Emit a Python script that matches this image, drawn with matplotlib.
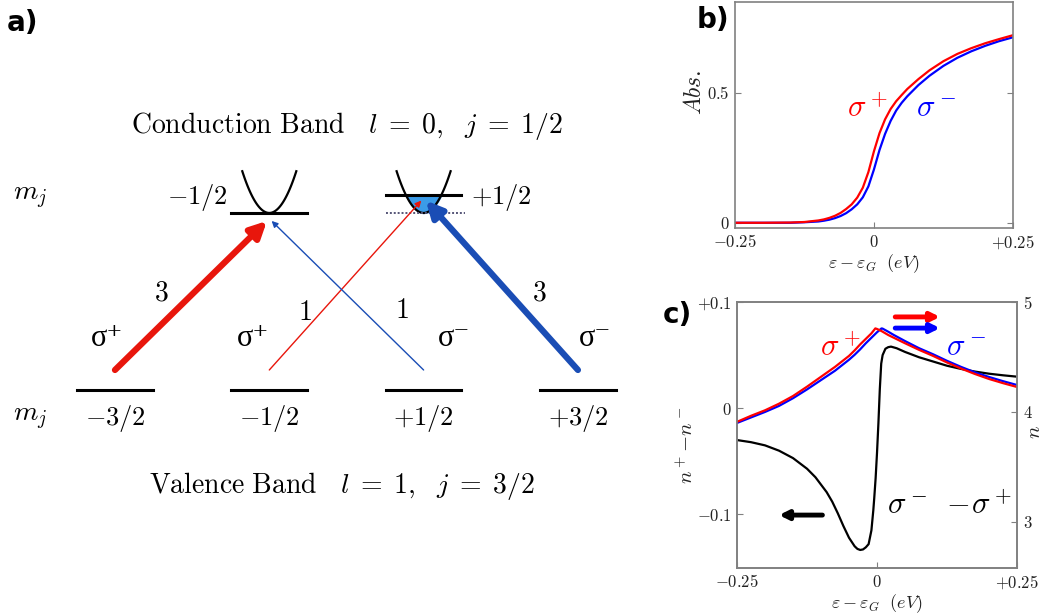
import numpy as np
import matplotlib.pyplot as plt
from matplotlib.patches import FancyArrowPatch

plt.rcParams['mathtext.fontset'] = 'cm'
plt.rcParams['font.family'] = ['DejaVu Serif']

# ---- panel a: level scheme ----
valence_mj = [-1.5, -0.5, 0.5, 1.5]
valence_labels = [r'$-3/2$', r'$-1/2$', r'$+1/2$', r'$+3/2$']
conduction_mj = [-0.5, 0.5]
conduction_labels = [r'$-1/2$', r'$+1/2$']
trans_from = [-1.5, -0.5, 0.5, 1.5]
trans_to = [-0.5, 0.5, -0.5, 0.5]
trans_strength = [3, 1, 1, 3]
trans_pol = ['σ⁺', 'σ⁺', 'σ⁻', 'σ⁻']
fermi_shift = 0.10   # +1/2 conduction band filled up to here

# ---- panel b: absorption ----
e_b = [-0.25, -0.2, -0.15, -0.125, -0.1, -0.09, -0.08, -0.07, -0.06, -0.05,
       -0.04, -0.03, -0.02, -0.01, 0.0, 0.01, 0.02, 0.03, 0.04, 0.05, 0.06,
       0.08, 0.1, 0.125, 0.15, 0.175, 0.2, 0.225, 0.25]
abs_plus = [0.0, 0.0, 0.001, 0.003, 0.009, 0.013, 0.019, 0.027, 0.038, 0.053,
            0.071, 0.097, 0.135, 0.195, 0.275, 0.345, 0.398, 0.438, 0.468, 0.492,
            0.515, 0.553, 0.587, 0.622, 0.650, 0.672, 0.691, 0.707, 0.722]
abs_minus = [0.0, 0.0, 0.0, 0.002, 0.005, 0.008, 0.012, 0.018, 0.026, 0.037,
             0.052, 0.071, 0.098, 0.140, 0.205, 0.280, 0.342, 0.392, 0.432, 0.462,
             0.487, 0.530, 0.566, 0.604, 0.635, 0.660, 0.681, 0.699, 0.714]

# ---- panel c: refractive index ----
e_n = [-0.25, -0.225, -0.2, -0.175, -0.15, -0.125, -0.1, -0.075, -0.05, -0.04,
       -0.03, -0.02, -0.01, -0.003, 0.0, 0.008, 0.01, 0.02, 0.03, 0.05, 0.075,
       0.1, 0.125, 0.15, 0.175, 0.2, 0.225, 0.25]
n_plus = [3.91, 3.965, 4.015, 4.075, 4.145, 4.23, 4.32, 4.41, 4.51, 4.56,
          4.615, 4.665, 4.715, 4.76, 4.755, 4.736, 4.73, 4.70, 4.675, 4.625, 4.565,
          4.51, 4.45, 4.395, 4.345, 4.30, 4.262, 4.227]
n_minus = [3.90, 3.95, 4.00, 4.055, 4.125, 4.205, 4.29, 4.375, 4.475, 4.52,
           4.57, 4.625, 4.675, 4.71, 4.725, 4.76, 4.758, 4.73, 4.70, 4.645, 4.58,
           4.525, 4.465, 4.41, 4.36, 4.318, 4.28, 4.245]
e_d = [-0.25, -0.225, -0.2, -0.175, -0.15, -0.125, -0.11, -0.1, -0.09, -0.08,
       -0.07, -0.06, -0.05, -0.04, -0.035, -0.03, -0.025, -0.02, -0.015, -0.01,
       -0.0066, -0.005, -0.0025, 0.0, 0.0025, 0.005, 0.0075, 0.01, 0.015, 0.02,
       0.025, 0.035, 0.05, 0.075, 0.1, 0.125, 0.15, 0.175, 0.2, 0.225, 0.25]
n_diff = [-0.030, -0.032, -0.035, -0.040, -0.047, -0.057, -0.065, -0.072, -0.079, -0.088,
          -0.099, -0.111, -0.122, -0.130, -0.1325, -0.1335, -0.133, -0.131, -0.128, -0.115,
          -0.096, -0.085, -0.066, -0.042, -0.014, 0.018, 0.042, 0.050, 0.056, 0.0575,
          0.058, 0.0565, 0.053, 0.048, 0.044, 0.040, 0.037, 0.0345, 0.0325, 0.031, 0.0297]

RED = '#e8160c'
BLUE = '#1a4db5'
SIGMA_FONT = ['Liberation Serif', 'DejaVu Serif']

fig = plt.figure(figsize=(10.45, 6.15), dpi=100)

# ================= panel a =================
ax = fig.add_axes([0, 0, 650 / 1045, 1])
ax.set_xlim(-2.245, 1.967)
ax.set_ylim(-1.271, 2.203)
ax.axis('off')

hw = 0.245
for mj, lab in zip(valence_mj, valence_labels):
    ax.plot([mj - hw, mj + hw], [0, 0], color='k', lw=2.2)
    ax.text(mj, -0.16, lab, ha='center', va='center', fontsize=19)
ax.text(-2.05, -0.16, r'$m_j$', ha='center', va='center', fontsize=20)
ax.text(-2.05, 1.09, r'$m_j$', ha='center', va='center', fontsize=20)

k = np.linspace(-0.175, 0.175, 80)
curv = 7.7
for mj in conduction_mj:
    ax.plot(mj + k, 1 + curv * k ** 2, color='k', lw=1.6)
# -1/2 band: level at band bottom
ax.plot([conduction_mj[0] - hw, conduction_mj[0] + hw], [1, 1], color='k', lw=2.2)
# +1/2 band: filled up to fermi level, dotted band bottom
mj = conduction_mj[1]
kf = np.sqrt(fermi_shift / curv)
kk = np.linspace(-kf, kf, 60)
ax.fill_between(mj + kk, 1 + curv * kk ** 2, 1 + fermi_shift, color='#3b9be8', zorder=1)
ax.plot([mj - hw, mj + hw + 0.02], [1, 1], color='#555577', lw=1.4, ls=(0, (1, 1)))
ax.plot([mj - hw, mj + hw], [1 + fermi_shift, 1 + fermi_shift], color='k', lw=2.2)
ax.text(conduction_mj[0] - 0.27, 1.09, conduction_labels[0], ha='right', va='center', fontsize=19)
ax.text(conduction_mj[1] + 0.31, 1.09, conduction_labels[1], ha='left', va='center', fontsize=19)

ax.text(0.0, 1.49, r'$\mathrm{Conduction\ Band}\ \ \ l\;=\;0,\ \ j\;=\;1/2$',
        ha='center', va='center', fontsize=20)
ax.text(-0.03, -0.54, r'$\mathrm{Valence\ Band}\ \ \ l\;=\;1,\ \ j\;=\;3/2$',
        ha='center', va='center', fontsize=20)

num_dx = [0.30, 0.23, -0.14, -0.25]
num_y = [0.55, 0.44, 0.45, 0.55]
pol_dx = [-0.05, -0.105, 0.195, 0.11]
for i, (src, dst, s, pol) in enumerate(zip(trans_from, trans_to, trans_strength, trans_pol)):
    col = RED if pol == 'σ⁺' else BLUE
    d = np.sign(dst - src)
    y_end = 1 - 0.045 if dst < 0 else 1 + fermi_shift - 0.03
    thick = s == 3
    arr = FancyArrowPatch((src, 0.113), (dst - 0.015 * d, y_end),
                          arrowstyle='-|>', color=col,
                          lw=4.5 if thick else 1.0,
                          mutation_scale=24 if thick else 9,
                          shrinkA=0, shrinkB=0, zorder=3)
    ax.add_patch(arr)
    ax.text(src + num_dx[i], num_y[i], '$%d$' % s, ha='center', va='center', fontsize=20)
    ax.text(src + pol_dx[i], 0.29, pol, ha='center', va='center', fontsize=22,
            family=SIGMA_FONT)

fig.text(0.006, 0.963, 'a)', fontsize=20, weight='bold', family='DejaVu Sans',
         ha='left', va='center')

# ================= panel b =================
GRAY = '#808080'
TICK_COL = '#222222'


def style_axes(a):
    for sp in a.spines.values():
        sp.set_color(GRAY)
        sp.set_linewidth(1.2)
    a.tick_params(direction='in', length=4, color=GRAY, labelsize=12,
                  labelcolor=TICK_COL, pad=4)


axb = fig.add_axes([0.7033, 0.6293, 0.2660, 0.3675])
axb.plot(e_b, abs_minus, color='blue', lw=1.6)
axb.plot(e_b, abs_plus, color='red', lw=1.6)
axb.set_xlim(-0.25, 0.25)
axb.set_ylim(-0.02, 0.85)
axb.set_xticks([-0.25, 0, 0.25])
axb.set_xticklabels([r'$-0.25$', r'$0$', r'$+0.25$'])
axb.set_yticks([0, 0.5])
axb.set_yticklabels([r'$0$', r'$0.5$'])
style_axes(axb)
axb.tick_params(right=True)
axb.set_xlabel(r'$\varepsilon-\varepsilon_G\ \ (eV)$', fontsize=13, color=TICK_COL, labelpad=1)
axb.set_ylabel(r'$Abs.$', fontsize=17, color=TICK_COL)
axb.yaxis.set_label_coords(-0.105, 0.6)
axb.text(0.475, 0.53, r'$\sigma^+$', color='red', fontsize=22, ha='center', va='center',
         transform=axb.transAxes)
axb.text(0.725, 0.53, r'$\sigma^-$', color='blue', fontsize=22, ha='center', va='center',
         transform=axb.transAxes)
fig.text(0.667, 0.967, 'b)', fontsize=20, weight='bold', family='DejaVu Sans',
         ha='left', va='center')

# ================= panel c =================
axc = fig.add_axes([0.7053, 0.0764, 0.2679, 0.4325])
axc.plot(e_d, n_diff, color='k', lw=1.6)
axc.set_xlim(-0.25, 0.25)
axc.set_ylim(-0.1505, 0.1)
axc.set_xticks([-0.25, 0, 0.25])
axc.set_xticklabels([r'$-0.25$', r'$0$', r'$+0.25$'])
axc.set_yticks([-0.1, 0, 0.1])
axc.set_yticklabels([r'$-0.1$', r'$0$', r'$+0.1$'])
style_axes(axc)
axc.set_xlabel(r'$\varepsilon-\varepsilon_G\ \ (eV)$', fontsize=13, color=TICK_COL, labelpad=1)
axc.set_ylabel(r'$n^+\!-\!n^-$', fontsize=15, color=TICK_COL)
axc.yaxis.set_label_coords(-0.143, 0.46)

axn = axc.twinx()
axn.plot(e_n, n_minus, color='blue', lw=1.6)
axn.plot(e_n, n_plus, color='red', lw=1.6)
axn.set_ylim(2.58, 5.0)
axn.set_yticks([3, 4, 5])
axn.set_yticklabels([r'$3$', r'$4$', r'$5$'])
style_axes(axn)
axn.set_ylabel(r'$n$', fontsize=15, color=TICK_COL)
axn.yaxis.set_label_coords(1.03, 0.51)

axn.text(0.368, 0.83, r'$\sigma^+$', color='red', fontsize=22, ha='center', va='center',
         transform=axn.transAxes)
axn.text(0.818, 0.83, r'$\sigma^-$', color='blue', fontsize=22, ha='center', va='center',
         transform=axn.transAxes)
axn.text(0.76, 0.235, r'$\sigma^-\ -\!\sigma^+$', color='k', fontsize=22, ha='center',
         va='center', transform=axn.transAxes)
for y, col in [(0.944, 'red'), (0.902, 'blue')]:
    axn.annotate('', xy=(0.725, y), xytext=(0.565, y), xycoords='axes fraction',
                 arrowprops=dict(arrowstyle='-|>', color=col, lw=3.5, mutation_scale=13,
                                 shrinkA=0, shrinkB=0))
axn.annotate('', xy=(0.15, 0.199), xytext=(0.305, 0.199), xycoords='axes fraction',
             arrowprops=dict(arrowstyle='-|>', color='k', lw=3.5, mutation_scale=13,
                             shrinkA=0, shrinkB=0))
fig.text(0.634, 0.488, 'c)', fontsize=20, weight='bold', family='DejaVu Sans',
         ha='left', va='center')

fig.savefig('out.png', dpi=100)
